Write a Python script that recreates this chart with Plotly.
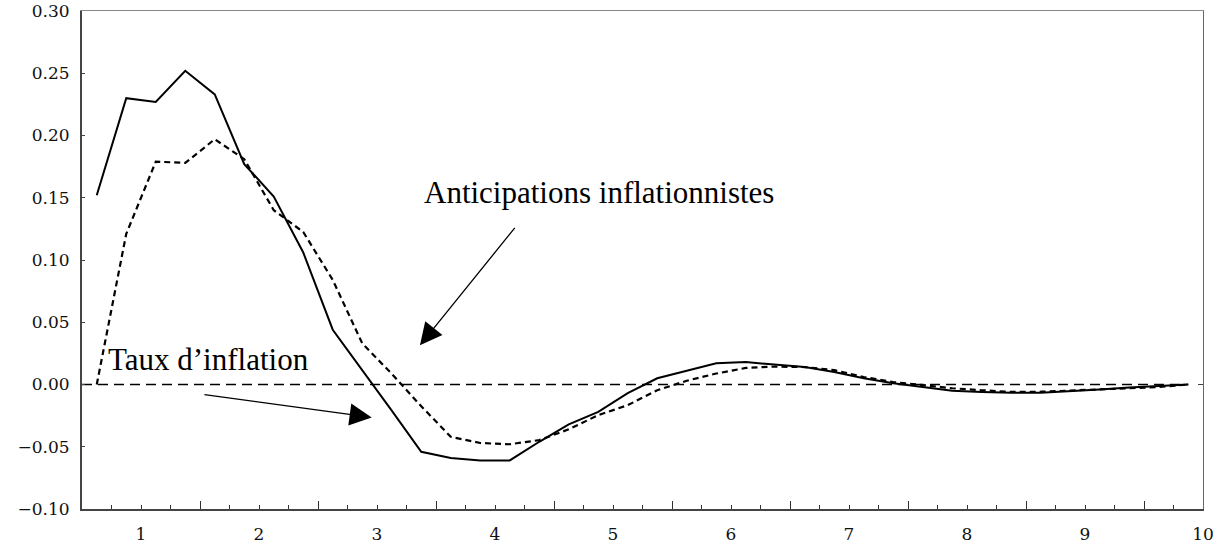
import plotly.graph_objects as go

# Horizon in years (quarterly steps)
horizon = [0.625, 0.875, 1.125, 1.375, 1.625, 1.875, 2.125, 2.375, 2.625, 2.875,
           3.125, 3.375, 3.625, 3.875, 4.125, 4.375, 4.625, 4.875, 5.125, 5.375,
           5.625, 5.875, 6.125, 6.375, 6.625, 6.875, 7.125, 7.375, 7.625, 7.875,
           8.125, 8.375, 8.625, 8.875, 9.125, 9.375, 9.625, 9.875]

# Taux d'inflation (réponse)
inflation = [0.152, 0.230, 0.227, 0.252, 0.233, 0.177, 0.151, 0.106, 0.044, 0.012,
             -0.021, -0.054, -0.059, -0.061, -0.061, -0.046, -0.032, -0.022, -0.007, 0.005,
             0.011, 0.017, 0.018, 0.016, 0.014, 0.010, 0.005, 0.001, -0.002, -0.005,
             -0.006, -0.0067, -0.0066, -0.005, -0.004, -0.0025, -0.001, 0.000]

# Anticipations inflationnistes (réponse)
anticipations = [0.000, 0.121, 0.179, 0.178, 0.197, 0.181, 0.140, 0.1225, 0.084, 0.033,
                 0.0086, -0.0175, -0.042, -0.047, -0.048, -0.0447, -0.036, -0.0246, -0.0166, -0.0046,
                 0.0030, 0.0088, 0.0133, 0.0144, 0.0140, 0.0115, 0.0060, 0.0020, -0.0005, -0.0030,
                 -0.0046, -0.0060, -0.0058, -0.0050, -0.0040, -0.0030, -0.0020, 0.000]

zero_x = [0.5, 9.875]
zero_y = [0.0, 0.0]

year_ticks = [1, 2, 3, 4, 5, 6, 7, 8, 9, 10]
year_labels = ["1", "2", "3", "4", "5", "6", "7", "8", "9", "10"]
year_bounds = [1.5, 2.5, 3.5, 4.5, 5.5, 6.5, 7.5, 8.5, 9.5]
y_ticks = [-0.10, -0.05, 0.00, 0.05, 0.10, 0.15, 0.20, 0.25, 0.30]
y_labels = ["\u22120.10", "\u22120.05", "0.00", "0.05", "0.10", "0.15", "0.20", "0.25", "0.30"]

x_range = [0.5, 10.0]
y_range = [-0.10, 0.30]

tick_font = dict(family="DejaVu Serif", size=17, color="#111")
note_font = dict(family="Liberation Serif, Times New Roman, serif", size=31, color="#000")

fig = go.Figure()

fig.add_trace(go.Scatter(x=zero_x, y=zero_y, mode="lines",
                         line=dict(color="#000", width=1.3, dash="10px,6px"),
                         hoverinfo="skip"))
fig.add_trace(go.Scatter(x=horizon, y=anticipations, mode="lines",
                         line=dict(color="#000", width=2.2, dash="6px,4px"),
                         name="Anticipations inflationnistes"))
fig.add_trace(go.Scatter(x=horizon, y=inflation, mode="lines",
                         line=dict(color="#000", width=2),
                         name="Taux d'inflation"))

# Invisible carriers so the frame/tick overlay axes are drawn
fig.add_trace(go.Scatter(x=zero_x, y=zero_y, xaxis="x2", yaxis="y2", mode="lines",
                         line=dict(width=0, color="rgba(0,0,0,0)"), hoverinfo="skip"))
fig.add_trace(go.Scatter(x=zero_x, y=zero_y, xaxis="x3", yaxis="y2", mode="lines",
                         line=dict(width=0, color="rgba(0,0,0,0)"), hoverinfo="skip"))

fig.add_annotation(x=4.88, y=0.1543, xref="x", yref="y", text="Anticipations inflationnistes",
                   showarrow=False, font=note_font, xanchor="center", yanchor="middle")
fig.add_annotation(x=1.568, y=0.0203, xref="x", yref="y", text="Taux d\u2019inflation",
                   showarrow=False, font=note_font, xanchor="center", yanchor="middle")

# Arrows
fig.add_annotation(x=3.364, y=0.0315, ax=4.178, ay=0.127, xref="x", yref="y",
                   axref="x", ayref="y", text="", showarrow=True,
                   arrowhead=2, arrowsize=3.4, arrowwidth=1.3, arrowcolor="#000")
fig.add_annotation(x=2.955, y=-0.0265, ax=1.525, ay=-0.008, xref="x", yref="y",
                   axref="x", ayref="y", text="", showarrow=True,
                   arrowhead=2, arrowsize=3.4, arrowwidth=1.3, arrowcolor="#000")

fig.update_layout(
    width=1228, height=544,
    margin=dict(l=82, r=25, t=11, b=35),
    paper_bgcolor="white", plot_bgcolor="white",
    showlegend=False,
    xaxis=dict(range=x_range, tickvals=year_ticks, ticktext=year_labels,
               ticks="", showgrid=False, zeroline=False, automargin=False,
               showline=True, linecolor="#444", linewidth=2,
               tickfont=tick_font, ticklabelstandoff=9),
    xaxis2=dict(range=x_range, overlaying="x", anchor="y2", side="bottom",
                tickvals=year_bounds, ticks="inside", ticklen=8, tickwidth=1.3,
                tickcolor="#333", showticklabels=False, showgrid=False,
                zeroline=False, showline=False, automargin=False,
                minor=dict(tick0=0.5, dtick=0.25, ticks="inside", ticklen=4,
                           tickwidth=1.2, tickcolor="#333", showgrid=False)),
    xaxis3=dict(range=x_range, overlaying="x", anchor="y2", side="top",
                showticklabels=False, ticks="", showgrid=False, zeroline=False,
                showline=True, linecolor="#888", linewidth=1.2, automargin=False),
    yaxis=dict(range=y_range, tickvals=y_ticks, ticktext=y_labels,
               ticks="inside", ticklen=3, tickwidth=1.2, tickcolor="#444",
               showgrid=False, zeroline=False, automargin=False,
               showline=True, linecolor="#444", linewidth=2,
               tickfont=tick_font, ticklabelstandoff=7),
    yaxis2=dict(range=y_range, overlaying="y", anchor="x2", side="right",
                tickvals=[0.0], ticks="inside", ticklen=5, tickwidth=1.2,
                tickcolor="#444", showticklabels=False, showgrid=False,
                zeroline=False, showline=True, linecolor="#666", linewidth=1.2,
                automargin=False),
)

fig.write_html("out.html")
